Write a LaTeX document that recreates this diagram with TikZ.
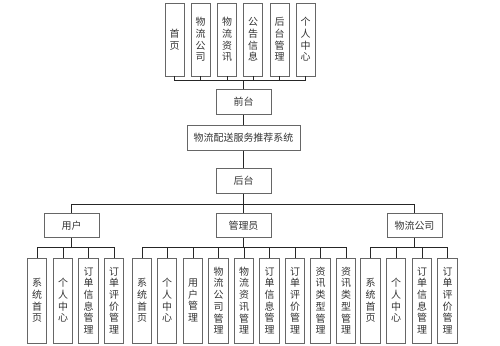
\documentclass[tikz,border=0pt]{standalone}
\usepackage{fontspec}
\setmainfont{Noto Sans CJK SC}
\begin{document}
\begin{tikzpicture}[x=0.03cm, y=-0.03cm,
    box/.style={draw=black!60, line width=0.6pt, fill=white, inner sep=0pt, text=black!80,
                font=\fontsize{8.5}{10}\selectfont},
    wide/.style={box, minimum width=1.65cm, minimum height=0.735cm},
    tall/.style={box, minimum width=0.57cm, minimum height=2.19cm, align=center},
    leaf/.style={box, minimum width=0.59cm, minimum height=2.55cm, align=center},
    link/.style={draw=black!85, line width=0.6pt}]
    \useasboundingbox (0,0) rectangle (500,346);

    % Bus points
    \coordinate (busTop) at (243.5,80);
    \coordinate (busMid) at (243.5,204);
    \coordinate (busU) at (71.5,247);
    \coordinate (busA) at (243.5,247);
    \coordinate (busC) at (414.5,247);

    % Front-end pages
    \node (t1) at (174.5,39.5) [tall] {首\\页};
    \node (t2) at (200.5,39.5) [tall] {物\\流\\公\\司};
    \node (t3) at (227,39.5) [tall] {物\\流\\资\\讯};
    \node (t4) at (253,39.5) [tall] {公\\告\\信\\息};
    \node (t5) at (279.5,39.5) [tall] {后\\台\\管\\理};
    \node (t6) at (305.5,39.5) [tall] {个\\人\\中\\心};

    % Main column
    \node (qiantai) at (243.5,102) [wide] {前台};
    \node (sys) at (243.5,138) [wide, minimum width=3.39cm] {物流配送服务推荐系统};
    \node (houtai) at (243.5,181) [wide] {后台};

    % Roles
    \node (yonghu) at (71.5,225.5) [wide] {用户};
    \node (admin) at (243.5,225.5) [wide] {管理员};
    \node (gongsi) at (414.5,225.5) [wide] {物流公司};

    % User functions
    \node (u1) at (37,300.5) [leaf] {系\\统\\首\\页};
    \node (u2) at (63,300.5) [leaf] {个\\人\\中\\心};
    \node (u3) at (88.5,300.5) [leaf] {订\\单\\信\\息\\管\\理};
    \node (u4) at (114,300.5) [leaf] {订\\单\\评\\价\\管\\理};

    % Admin functions
    \node (a1) at (142,300.5) [leaf] {系\\统\\首\\页};
    \node (a2) at (167,300.5) [leaf] {个\\人\\中\\心};
    \node (a3) at (193,300.5) [leaf] {用\\户\\管\\理};
    \node (a4) at (218.5,300.5) [leaf] {物\\流\\公\\司\\管\\理};
    \node (a5) at (244,300.5) [leaf] {物\\流\\资\\讯\\管\\理};
    \node (a6) at (269.5,300.5) [leaf] {订\\单\\信\\息\\管\\理};
    \node (a7) at (295,300.5) [leaf] {订\\单\\评\\价\\管\\理};
    \node (a8) at (320.5,300.5) [leaf] {资\\讯\\类\\型\\管\\理};
    \node (a9) at (346,300.5) [leaf] {资\\讯\\类\\型\\管\\理};

    % Company functions
    \node (c1) at (370.5,300.5) [leaf] {系\\统\\首\\页};
    \node (c2) at (396,300.5) [leaf] {个\\人\\中\\心};
    \node (c3) at (422,300.5) [leaf] {订\\单\\信\\息\\管\\理};
    \node (c4) at (447.5,300.5) [leaf] {订\\单\\评\\价\\管\\理};

    % Top tree
    \draw[link] (qiantai) -- (busTop);
    \draw[link] (t1) |- (busTop);
    \draw[link] (t2) |- (busTop);
    \draw[link] (t3) |- (busTop);
    \draw[link] (t4) |- (busTop);
    \draw[link] (t5) |- (busTop);
    \draw[link] (t6) |- (busTop);

    % Main column links
    \draw[link] (qiantai) -- (sys);
    \draw[link] (sys) -- (houtai);
    \draw[link] (houtai) -- (busMid);
    \draw[link] (yonghu) |- (busMid);
    \draw[link] (admin) -- (busMid);
    \draw[link] (gongsi) |- (busMid);

    % Role trees
    \draw[link] (yonghu) -- (busU);
    \draw[link] (u1) |- (busU);
    \draw[link] (u2) |- (busU);
    \draw[link] (u3) |- (busU);
    \draw[link] (u4) |- (busU);

    \draw[link] (admin) -- (busA);
    \draw[link] (a1) |- (busA);
    \draw[link] (a2) |- (busA);
    \draw[link] (a3) |- (busA);
    \draw[link] (a4) |- (busA);
    \draw[link] (a5) |- (busA);
    \draw[link] (a6) |- (busA);
    \draw[link] (a7) |- (busA);
    \draw[link] (a8) |- (busA);
    \draw[link] (a9) |- (busA);

    \draw[link] (gongsi) -- (busC);
    \draw[link] (c1) |- (busC);
    \draw[link] (c2) |- (busC);
    \draw[link] (c3) |- (busC);
    \draw[link] (c4) |- (busC);
\end{tikzpicture}
\end{document}
